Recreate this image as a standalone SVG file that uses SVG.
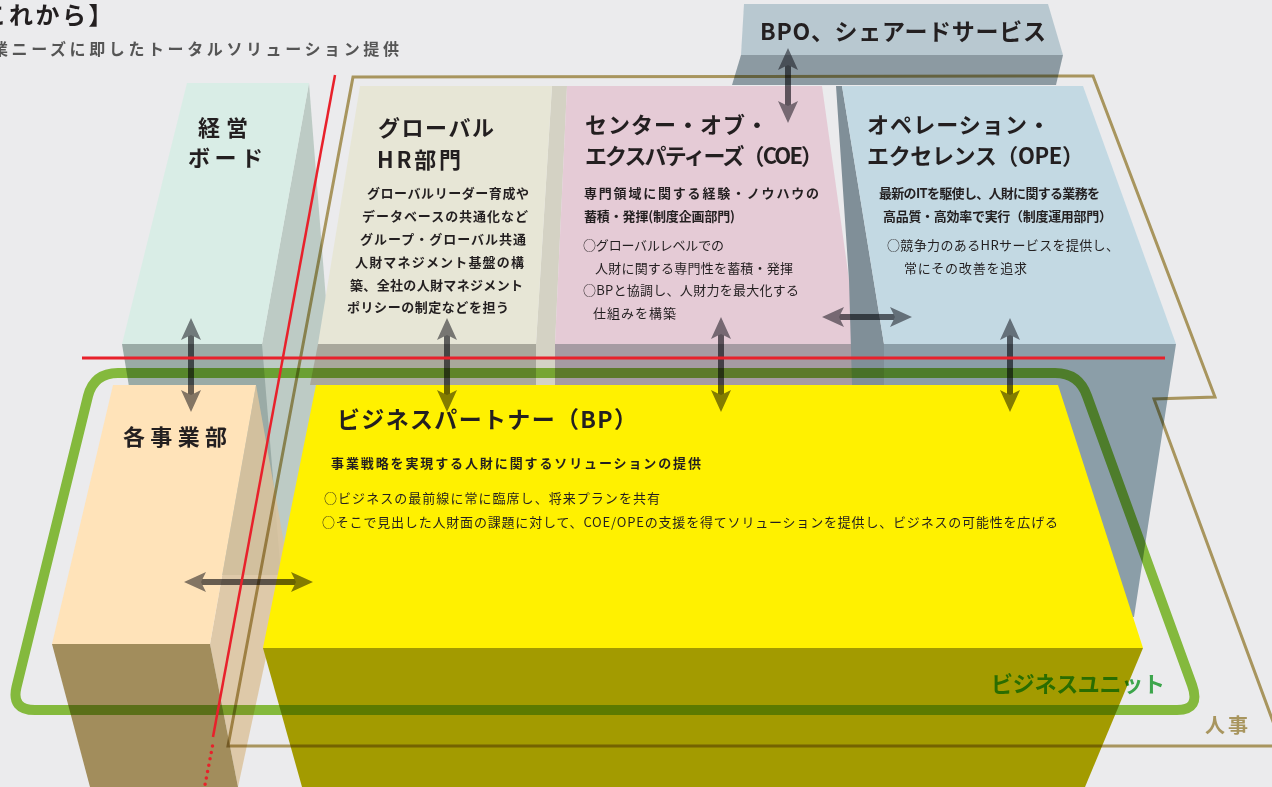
<svg xmlns="http://www.w3.org/2000/svg" width="1272" height="787" viewBox="0 0 1272 787">
<style>
.t{font-family:"Noto Sans CJK JP","Noto Sans CJK SC",sans-serif;fill:#231f20}
.h{font-size:22px;font-weight:700}
.s{font-size:13px;font-weight:700}
.r{font-size:13px;font-weight:400}
.mul{mix-blend-mode:multiply}
.arrow{stroke:#68686d;stroke-width:6;fill:none;marker-start:url(#ah);marker-end:url(#ah);mix-blend-mode:multiply}
</style>
<defs>
<marker id="ah" viewBox="0 0 22 20" refX="14" refY="10" markerWidth="22" markerHeight="20" markerUnits="userSpaceOnUse" orient="auto-start-reverse">
<path d="M22,10 L0,0 L5,10 L0,20 Z" fill="#838388"/>
</marker>
</defs>
<rect width="1272" height="787" fill="#ebebed"/>

<g id="node-bpo">
<polygon points="744,4 1048,4 1063,55 741,55" fill="#b8c8d0"/>
<polygon points="741,55 1063,55 1056,85 732,85" fill="#8c9aa2"/>
<text class="t" x="760" y="40" font-size="23" font-weight="700" textLength="286" lengthAdjust="spacing">BPO、シェアードサービス</text>
</g>

<g id="node-keiei">
<polygon points="122,344 262,344 286,400 281,575 160,575" fill="#9aaba6"/>
<polygon points="309,83 326,300 325,350 303,470 281,575 262,344" fill="#bdcbc5"/>
<polygon points="187,83 309,83 262,344 122,344" fill="#d9ede6"/>
<text class="t h" x="198" y="136" textLength="50" lengthAdjust="spacing">経営</text>
<text class="t h" x="188" y="166" textLength="75" lengthAdjust="spacing">ボード</text>
</g>

<g id="node-hr">
<polygon points="318,344 536,344 536,385 310,385" fill="#a9a89c"/>
<polygon points="552,86 567,86 555,344 555,385 536,385 536,344" fill="#d4d2c4"/>
<polygon points="360,86 552,86 536,344 318,344" fill="#e7e6d6"/>
<text class="t h" x="378" y="136" textLength="116" lengthAdjust="spacing">グローバル</text>
<text class="t h" x="377" y="168" textLength="84" lengthAdjust="spacing">HR部門</text>
<text class="t s" x="367" y="198" textLength="162" lengthAdjust="spacing">グローバルリーダー育成や</text>
<text class="t s" x="362" y="221" textLength="166" lengthAdjust="spacing">データベースの共通化など</text>
<text class="t s" x="360" y="244" textLength="166" lengthAdjust="spacing">グループ・グローバル共通</text>
<text class="t s" x="355" y="267" textLength="169" lengthAdjust="spacing">人財マネジメント基盤の構</text>
<text class="t s" x="350" y="290" textLength="173" lengthAdjust="spacing">築、全社の人財マネジメント</text>
<text class="t s" x="347" y="312" textLength="162" lengthAdjust="spacing">ポリシーの制定などを担う</text>
</g>

<g id="node-coe">
<polygon points="555,344 858,344 856,385 555,385" fill="#a69ba3"/>
<polygon points="567,86 822,86 858,344 555,344" fill="#e5cbd6"/>
<text class="t h" x="585" y="133" textLength="183" lengthAdjust="spacing">センター・オブ・</text>
<text class="t h" x="585" y="164" textLength="238" lengthAdjust="spacing">エクスパティーズ（COE）</text>
<text class="t s" x="584" y="198" font-size="13.5" textLength="235" lengthAdjust="spacing">専門領域に関する経験・ノウハウの</text>
<text class="t s" x="584" y="221" font-size="13.5" textLength="151" lengthAdjust="spacing">蓄積・発揮(制度企画部門)</text>
<text class="t r" x="583" y="250" textLength="141" lengthAdjust="spacing">○グローバルレベルでの</text>
<text class="t r" x="595" y="273" textLength="198" lengthAdjust="spacing">人財に関する専門性を蓄積・発揮</text>
<text class="t r" x="583" y="295" textLength="216" lengthAdjust="spacing">○BPと協調し、人財力を最大化する</text>
<text class="t r" x="593" y="318" textLength="83" lengthAdjust="spacing">仕組みを構築</text>
</g>

<g id="node-ope">
<polygon points="856,344 1176,344 1134,617 1000,617 1000,385 856,385" fill="#8b9ea8"/>
<polygon points="836,86 842,86 884,344 884,385 852,385 849,280" fill="#808f98"/>
<polygon points="842,86 1083,86 1176,344 884,344" fill="#c3d9e3"/>
<text class="t h" x="867" y="133" textLength="183" lengthAdjust="spacing">オペレーション・</text>
<text class="t h" x="867" y="164" textLength="217" lengthAdjust="spacing">エクセレンス（OPE）</text>
<text class="t s" x="879" y="198" font-size="13.5" textLength="221" lengthAdjust="spacing">最新のITを駆使し、人財に関する業務を</text>
<text class="t s" x="883" y="221" font-size="13.5" textLength="229" lengthAdjust="spacing">高品質・高効率で実行（制度運用部門）</text>
<text class="t r" x="887" y="250" textLength="232" lengthAdjust="spacing">○競争力のあるHRサービスを提供し、</text>
<text class="t r" x="904" y="273" textLength="123" lengthAdjust="spacing">常にその改善を追求</text>
</g>

<g id="node-jigyobu">
<polygon points="256,385 287,560 238,787 210,644" fill="#dcc39c" opacity="0.85"/>
<polygon points="52,644 210,644 238,787 90,787" fill="#a28d5c"/>
<polygon points="113,385 256,385 210,644 52,644" fill="#ffe3b9"/>
<text class="t h" x="123" y="445" textLength="104" lengthAdjust="spacing">各事業部</text>
</g>

<g id="node-bp">
<polygon points="263,648 1143,648 1085,787 302,787" fill="#a39b00"/>
<polygon points="316,385 1058,385 1143,648 263,648" fill="#fff100"/>
<text class="t" x="337" y="428" font-size="23" font-weight="700" textLength="300" lengthAdjust="spacing">ビジネスパートナー（BP）</text>
<text class="t s" x="331" y="468" textLength="370" lengthAdjust="spacing">事業戦略を実現する人財に関するソリューションの提供</text>
<text class="t r" x="324" y="503" font-size="12.5" textLength="336" lengthAdjust="spacing">○ビジネスの最前線に常に臨席し、将来プランを共有</text>
<text class="t r" x="322" y="527" font-size="12.5" textLength="736" lengthAdjust="spacing">○そこで見出した人財面の課題に対して、COE/OPEの支援を得てソリューションを提供し、ビジネスの可能性を広げる</text>
</g>

<g id="boundary-bu">
<path class="mul" d="M118,373 H1055 Q1079,373 1087,396 L1192,685 Q1201,710 1177,710 H35 Q11,710 16.5,687 L88,396 Q94,373 118,373 Z" fill="none" stroke="#8fc941" stroke-width="10"/>
<text class="t mul" x="991" y="692" font-size="22" font-weight="700" style="fill:#41b350" textLength="174" lengthAdjust="spacing">ビジネスユニット</text>
</g>

<g id="boundary-jinji">
<path class="mul" d="M353,77 L1093,76 L1215,397 L1154,399 L1282,746 L228,746 Z" fill="none" stroke="#b6a265" stroke-width="3"/>
<text class="t" x="1205" y="733" font-size="20" font-weight="700" style="fill:#a8955e" textLength="43" lengthAdjust="spacing">人事</text>
</g>

<g id="connectors">
<path class="arrow" d="M191,326 V404"/>
<path class="arrow" d="M447,326 V404"/>
<path class="arrow" d="M721,325 V404"/>
<path class="arrow" d="M1010,326 V404"/>
<path class="arrow" d="M788,56 V115"/>
<path class="arrow" d="M830,317 H904"/>
<path class="arrow" d="M192,582 H305"/>
</g>

<g id="guides" stroke="#e8212b" fill="none">
<line x1="82" y1="358" x2="1165" y2="358" stroke-width="3"/>
<line x1="335" y1="75" x2="213" y2="737" stroke-width="2.5"/>
<line x1="212.5" y1="746" x2="204" y2="790" stroke-width="3.5" stroke-linecap="round" stroke-dasharray="0 6.5"/>
</g>

<g id="title">
<text class="t" x="-44" y="24" font-size="24" font-weight="700" letter-spacing="2.5">【これから】</text>
<text class="t" x="-8" y="55" font-size="16" font-weight="700" letter-spacing="3.6" style="fill:#555">業ニーズに即したトータルソリューション提供</text>
</g>
</svg>
